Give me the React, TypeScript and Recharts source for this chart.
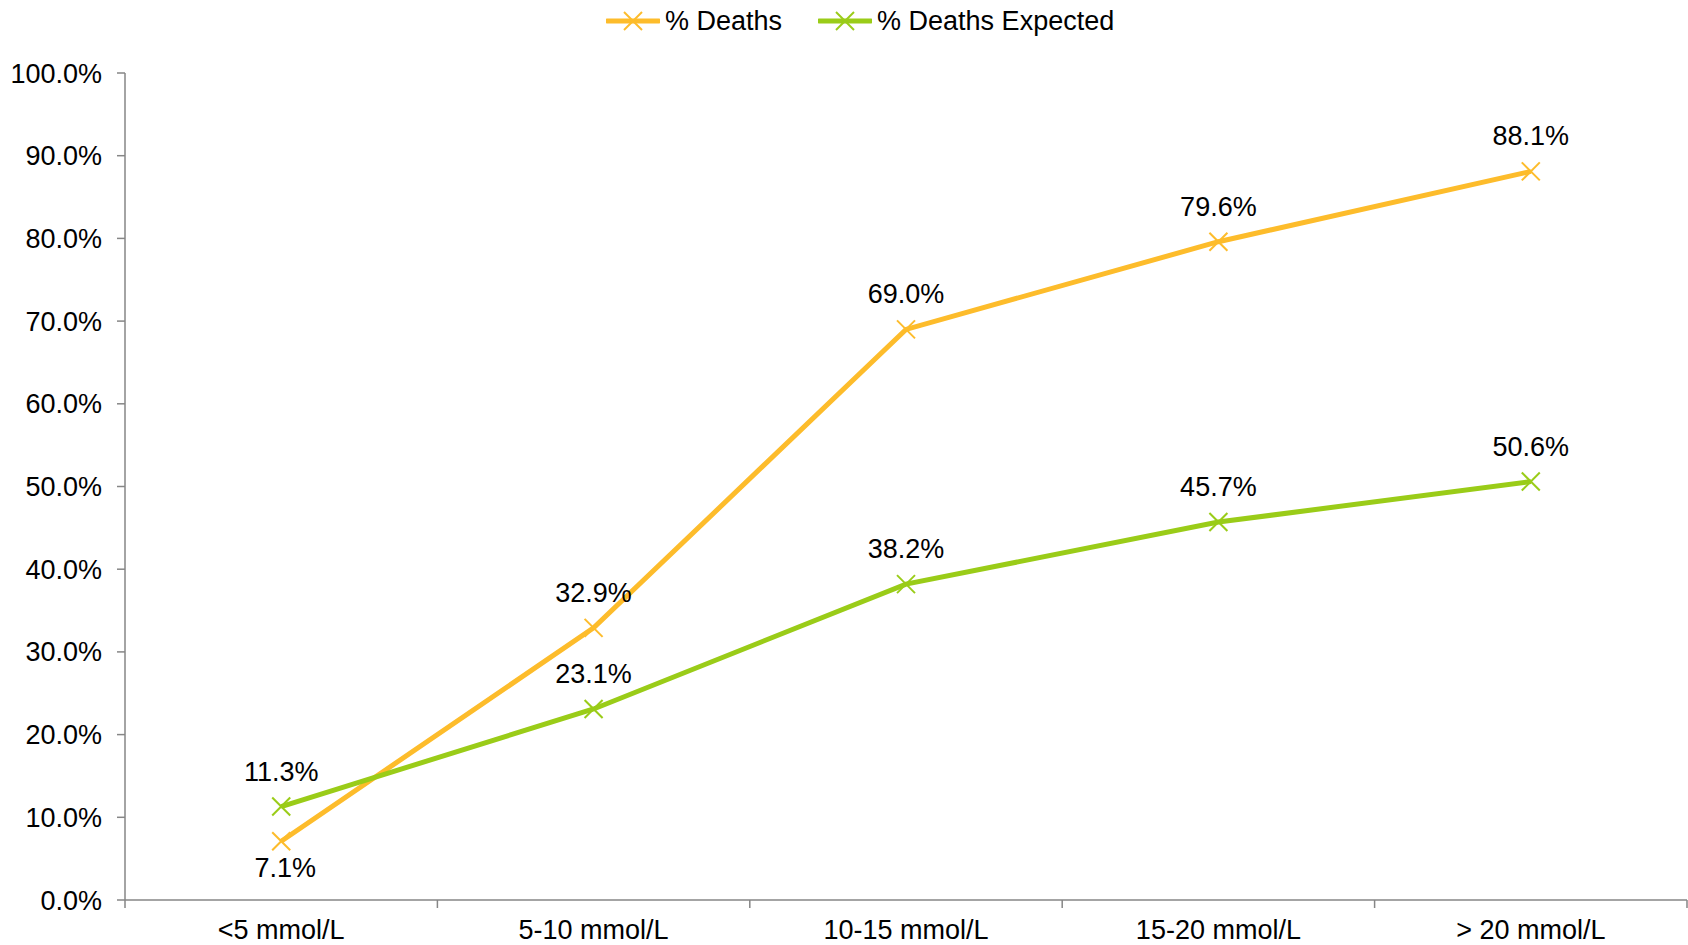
import React from 'react';
import { LineChart, Line, XAxis, YAxis, LabelList } from 'recharts';

const categories = ['<5 mmol/L', '5-10 mmol/L', '10-15 mmol/L', '15-20 mmol/L', '> 20 mmol/L'];
const deaths = [7.1, 32.9, 69.0, 79.6, 88.1];
const deathsExpected = [11.3, 23.1, 38.2, 45.7, 50.6];
const yTicks = [0, 10, 20, 30, 40, 50, 60, 70, 80, 90, 100];
const seriesNames = ['% Deaths', '% Deaths Expected'];

const ORANGE = '#FDBC2B';
const GREEN = '#9ACC18';
const AXIS = '#868686';
const FONT = '"Liberation Sans", Arial, sans-serif';
const FS = 27;

const data = categories.map((c, i) => ({
  pos: i + 0.5,
  category: c,
  deaths: deaths[i],
  expected: deathsExpected[i],
}));

const xTicks: number[] = [];
for (let i = 0; i <= categories.length; i++) {
  xTicks.push(i);
  if (i < categories.length) xTicks.push(i + 0.5);
}

const XTick = (props: any) => {
  const { x, y, payload } = props;
  const v = payload.value as number;
  if (Number.isInteger(v)) {
    return <line x1={x} x2={x} y1={y} y2={y + 8} stroke={AXIS} strokeWidth={1.5} />;
  }
  const label = categories[Math.floor(v)];
  return (
    <text x={x} y={y + 30} textAnchor="middle" dominantBaseline="central" fontFamily={FONT} fontSize={FS} fill="#000">
      {label}
    </text>
  );
};

const makeDot = (color: string) => (props: any) => {
  const { cx, cy, index } = props;
  if (cx == null || cy == null) return <g key={index} />;
  const s = 9;
  return (
    <g key={index}>
      <line x1={cx - s} y1={cy - s} x2={cx + s} y2={cy + s} stroke={color} strokeWidth={2} />
      <line x1={cx - s} y1={cy + s} x2={cx + s} y2={cy - s} stroke={color} strokeWidth={2} />
    </g>
  );
};

const makeLabel = (belowFirst: boolean) => (props: any) => {
  const { x, y, value, index } = props;
  const below = belowFirst && index === 0;
  return (
    <text
      x={below ? x + 4 : x}
      y={below ? y + 27 : y - 35}
      textAnchor="middle"
      dominantBaseline="central"
      fontFamily={FONT}
      fontSize={FS}
      fill="#000"
    >
      {Number(value).toFixed(1) + '%'}
    </text>
  );
};

const LegendItem = ({ color, name }: { color: string; name: string }) => (
  <div style={{ display: 'flex', alignItems: 'center', marginRight: 36 }}>
    <svg width={54} height={20} style={{ marginRight: 5 }}>
      <line x1={1} y1={10} x2={53} y2={10} stroke={color} strokeWidth={5} strokeLinecap="round" />
      <line x1={18} y1={1} x2={36} y2={19} stroke={color} strokeWidth={2} />
      <line x1={18} y1={19} x2={36} y2={1} stroke={color} strokeWidth={2} />
    </svg>
    <span style={{ fontFamily: FONT, fontSize: FS, color: '#000', lineHeight: '30px' }}>{name}</span>
  </div>
);

export default function App() {
  return (
    <div style={{ position: 'absolute', left: 0, top: 0, width: 1688, height: 945, background: '#fff' }}>
      <div style={{ position: 'absolute', left: 606, top: 6, display: 'flex', alignItems: 'center' }}>
        <LegendItem color={ORANGE} name={seriesNames[0]} />
        <LegendItem color={GREEN} name={seriesNames[1]} />
      </div>
      <LineChart width={1688} height={945} data={data} margin={{ top: 73, right: 1, left: 0, bottom: 0 }}>
        <XAxis
          dataKey="pos"
          type="number"
          domain={[0, categories.length]}
          ticks={xTicks}
          interval={0}
          tickLine={false}
          tickSize={0}
          tickMargin={0}
          tick={<XTick />}
          axisLine={{ stroke: AXIS, strokeWidth: 1.5 }}
          height={45}
        />
        <YAxis
          type="number"
          domain={[0, 100]}
          ticks={yTicks}
          interval={0}
          width={125}
          tickSize={8}
          tickMargin={15}
          tickFormatter={(v: number) => v.toFixed(1) + '%'}
          tick={{ fontFamily: FONT, fontSize: FS, fill: '#000' }}
          tickLine={{ stroke: AXIS, strokeWidth: 1.5 }}
          axisLine={{ stroke: AXIS, strokeWidth: 1.5 }}
        />
        <Line
          type="linear"
          dataKey="deaths"
          name={seriesNames[0]}
          stroke={ORANGE}
          strokeWidth={5}
          dot={makeDot(ORANGE)}
          activeDot={false}
          isAnimationActive={false}
        >
          <LabelList dataKey="deaths" content={makeLabel(true)} />
        </Line>
        <Line
          type="linear"
          dataKey="expected"
          name={seriesNames[1]}
          stroke={GREEN}
          strokeWidth={5}
          dot={makeDot(GREEN)}
          activeDot={false}
          isAnimationActive={false}
        >
          <LabelList dataKey="expected" content={makeLabel(false)} />
        </Line>
      </LineChart>
    </div>
  );
}
